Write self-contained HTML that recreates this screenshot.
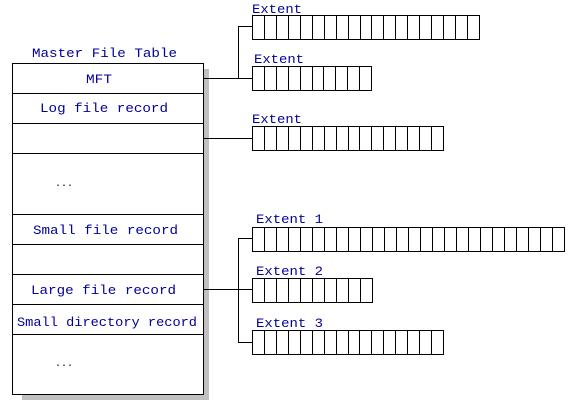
<!DOCTYPE html>
<html><head><meta charset="utf-8"><style>
html,body{margin:0;padding:0;background:#fff;width:582px;height:406px;overflow:hidden}
text{font-family:"Liberation Mono",monospace;font-size:13px;fill:#00009a}
</style></head><body>
<svg id="s" width="582" height="406" xmlns="http://www.w3.org/2000/svg" shape-rendering="crispEdges">
<rect x="203" y="69" width="6" height="331" fill="#c0c0c0"/>
<rect x="22" y="394" width="187" height="6" fill="#c0c0c0"/>
<rect x="12.5" y="63.5" width="191" height="331" fill="#fff" stroke="#000"/>
<g stroke="#000">
<line x1="12" y1="93.5" x2="203" y2="93.5"/>
<line x1="12" y1="123.5" x2="203" y2="123.5"/>
<line x1="12" y1="153.5" x2="203" y2="153.5"/>
<line x1="12" y1="214.5" x2="203" y2="214.5"/>
<line x1="12" y1="244.5" x2="203" y2="244.5"/>
<line x1="12" y1="274.5" x2="203" y2="274.5"/>
<line x1="12" y1="304.5" x2="203" y2="304.5"/>
<line x1="12" y1="334.5" x2="203" y2="334.5"/>
<path d="M203 78.5H252M238.5 78V26.5H252M203 138.5H252M203 289.5H252M238.5 238.5V342.5M238 238.5H252M238 342.5H252" fill="none"/>
</g>
<g id="ext" stroke="#000" fill="none"></g>
<text x="32" y="57" textLength="145" lengthAdjust="spacingAndGlyphs">Master File Table</text>
<text x="86" y="83" textLength="26" lengthAdjust="spacingAndGlyphs">MFT</text>
<text x="40" y="112" textLength="128" lengthAdjust="spacingAndGlyphs">Log file record</text>
<text x="33" y="234" textLength="145" lengthAdjust="spacingAndGlyphs">Small file record</text>
<text x="31" y="294" textLength="145" lengthAdjust="spacingAndGlyphs">Large file record</text>
<text x="17" y="326" textLength="180" lengthAdjust="spacingAndGlyphs">Small directory record</text>
<text x="55" y="186" style="fill:#000;font-size:10px">...</text>
<text x="55" y="366" style="fill:#000;font-size:10px">...</text>
<text x="252" y="13" textLength="50" lengthAdjust="spacingAndGlyphs">Extent</text>
<text x="254" y="63" textLength="50" lengthAdjust="spacingAndGlyphs">Extent</text>
<text x="252" y="123" textLength="50" lengthAdjust="spacingAndGlyphs">Extent</text>
<text x="256" y="223" textLength="67" lengthAdjust="spacingAndGlyphs">Extent 1</text>
<text x="256" y="275" textLength="67" lengthAdjust="spacingAndGlyphs">Extent 2</text>
<text x="256" y="327" textLength="67" lengthAdjust="spacingAndGlyphs">Extent 3</text>
</svg>
<script>
var g=document.getElementById('ext'),d='';
[[252,15,227,19],[252,66,119,10],[252,126,191,16],[252,227,312,26],[252,278,120,10],[252,330,191,16]].forEach(function(e){
 var x=e[0],y=e[1],w=e[2],n=e[3];
 d+='M'+(x+.5)+' '+(y+.5)+'h'+w+'v24h-'+w+'z';
 for(var i=1;i<n;i++){var xx=Math.round(x+w*i/n)+.5;d+='M'+xx+' '+y+'v24';}
});
var p=document.createElementNS('http://www.w3.org/2000/svg','path');p.setAttribute('d',d);g.appendChild(p);
</script>
</body></html>
